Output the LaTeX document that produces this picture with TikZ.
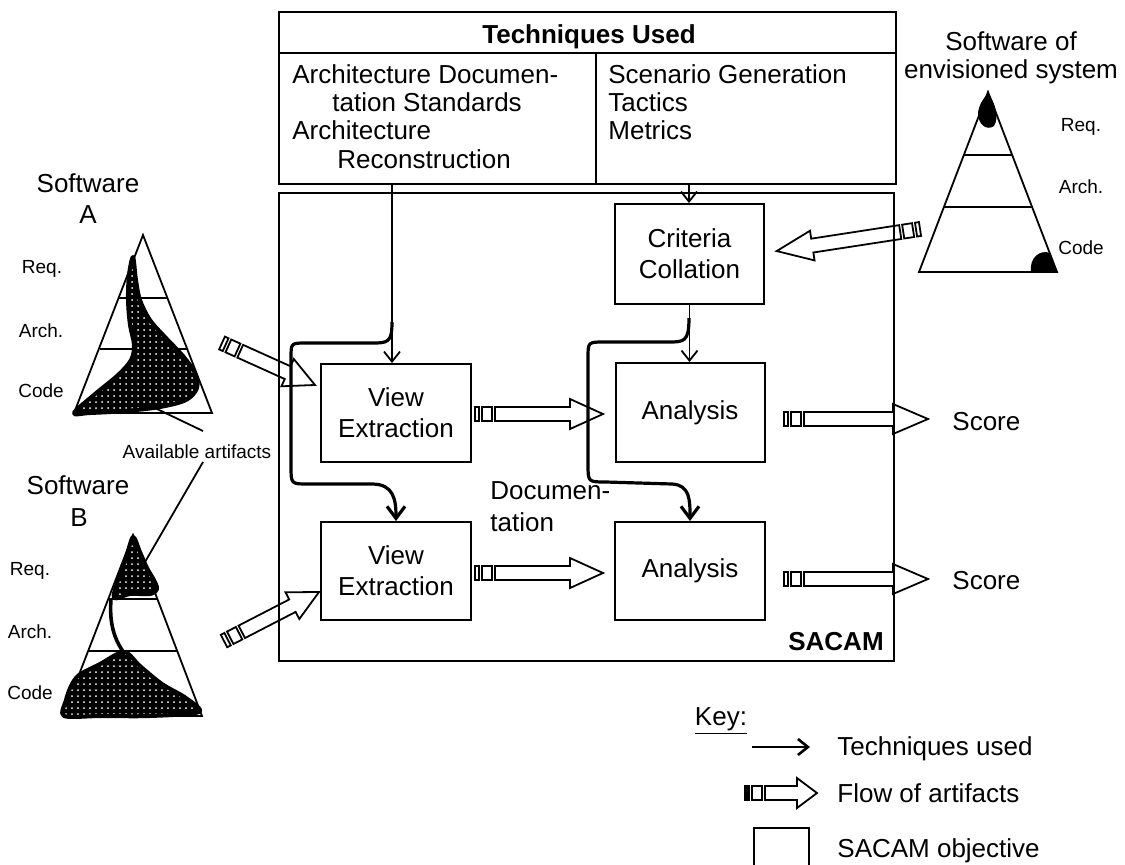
\documentclass[tikz,border=0pt]{standalone}
\usepackage{fontspec}
\setmainfont{Liberation Sans}
\usetikzlibrary{arrows.meta, patterns}
\tikzset{
  txt/.style={inner sep=0pt, font=\fontsize{13}{15.5}\selectfont},
  txtb/.style={inner sep=0pt, font=\fontsize{13}{15.5}\selectfont\bfseries},
  small/.style={inner sep=0pt, font=\fontsize{9.5}{11}\selectfont},
  objbox/.style={draw, line width=1pt, inner sep=0pt, align=center, font=\fontsize{13}{15.5}\selectfont},
  frame/.style={draw, line width=1pt, inner sep=0pt},
  ln/.style={line width=1pt},
  tri/.style={line width=0.9pt, line join=miter},
  tech/.style={line width=0.9pt, -{Straight Barb[length=5pt,width=8pt]}},
  techthick/.style={line width=1.6pt, -{Straight Barb[length=6pt,width=9pt]}},
  flowln/.style={line width=0.9pt},
  blob/.style={preaction={fill=black}, pattern=dots, pattern color=white, draw=black, line width=2pt, line join=round},
  pics/flowarr/.style 2 args={code={
    \draw[flowln] (0,-7) rectangle (4,7);
    \draw[flowln] (7,-7) rectangle (17,7);
    \draw[flowln] (20,-7) -- ({#1-#2},-7) -- ({#1-#2},-15) -- (#1,0) -- ({#1-#2},15) -- ({#1-#2},7) -- (20,7) -- cycle;
  }}
}
\begin{document}
\begin{tikzpicture}[x=0.5pt,y=-0.5pt]
\useasboundingbox (0,0) rectangle (1125,864);

% ---------- Techniques box ----------
\node[frame, anchor=north west, minimum width=308.5pt, minimum height=86pt] (techbox) at (278,11) {};
\coordinate (hdr) at (278,53);
\draw[ln] (hdr) -- (hdr -| techbox.east);
\coordinate (dv) at (596,53);
\draw[ln] (dv) -- (dv |- techbox.south);
\node[txtb, anchor=base] (th) at (589,43) {Techniques Used};
\node[txt, anchor=base west] (l1) at (292,83) {Architecture Documen-};
\node[txt, anchor=base west] (l2) at (332,111) {tation Standards};
\node[txt, anchor=base west] (l3) at (292,139) {Architecture};
\node[txt, anchor=base west] (l4) at (337,168) {Reconstruction};
\node[txt, anchor=base west] (r1) at (608,83) {Scenario Generation};
\node[txt, anchor=base west] (r2) at (608,111) {Tactics};
\node[txt, anchor=base west] (r3) at (608,139) {Metrics};

% ---------- SACAM box ----------
\node[frame, anchor=north west, minimum width=307.5pt, minimum height=234pt] (sacam) at (278,192) {};
\node[txtb, anchor=base] (sacamlbl) at (836,650) {SACAM};

\node[objbox, minimum width=75pt, minimum height=49pt] (ve1) at (396,413) {View\\Extraction};
\node[objbox, minimum width=75pt, minimum height=49pt] (ve2) at (396,571) {View\\Extraction};
\node[objbox, minimum width=74.5pt, minimum height=49.5pt] (an1) at (690,412.5) {Analysis};
\node[objbox, minimum width=75pt, minimum height=49pt] (an2) at (690,571) {Analysis};
\node[objbox, minimum width=74.5pt, minimum height=50pt] (cc) at (689.5,254) {Criteria\\Collation};

\node[txt, anchor=base west] (doc1) at (490,499) {Documen-};
\node[txt, anchor=base west] (doc2) at (490,531) {tation};

% ---------- flow of artifacts ----------
\coordinate (f1) at (475,414);
\pic at (f1) {flowarr={128}{33}};
\coordinate (f2) at (475,573);
\pic at (f2) {flowarr={128}{33}};
\coordinate (f3) at (784,419);
\pic at (f3) {flowarr={144}{35}};
\coordinate (f4) at (784,579);
\pic at (f4) {flowarr={144}{35}};
\coordinate (f5) at (920,229);
\pic[rotate=188.75] at (f5) {flowarr={145}{36}};
\coordinate (f6) at (222,343);
\pic[rotate=-24.3] at (f6) {flowarr={102}{30}};
\coordinate (f7) at (224,641);
\pic[rotate=27.3] at (f7) {flowarr={107}{30}};

\node[txt, anchor=base west] (score1) at (952,430) {Score};
\node[txt, anchor=base west] (score2) at (952,589) {Score};

% ---------- techniques used arrows ----------
\coordinate (t1) at (392,183);
\draw[tech] (t1) -- (t1 |- ve1.north);
\coordinate (t2) at (689,183);
\draw[tech] (t2) -- (t2 |- cc.north);
\draw[tech] (cc.south) -- (cc.south |- an1.north);

\coordinate (j1) at (392,322);
\draw[techthick] (j1) .. controls (392,343) and (388,343) .. (370,343) -- (306,343)
  .. controls (291,343) .. (291,358) -- (291,466) .. controls (291,484) .. (308,484)
  -- (372,484) .. controls (394,484) and (396,500) .. (ve2.north);
\coordinate (j2) at (689,318);
\draw[techthick] (j2) .. controls (689,342) and (684,342) .. (668,342) -- (604,342)
  .. controls (588,342) .. (588,358) -- (588,464) .. controls (588,482) .. (606,482)
  -- (672,484) .. controls (690,485) and (690,500) .. (an2.north);

% ---------- Software A ----------
\node[txt, anchor=base] (swa) at (88,192) {Software};
\node[txt, anchor=base] (swaA) at (88,223) {A};
\draw[tri] (143,235) -- (74,413) -- (212,413) -- cycle;
\draw[tri] (119,298) -- (167,298);
\draw[tri] (100,349) -- (187,349);
\path[blob] plot[smooth cycle, tension=0.55] coordinates {(133,257) (136,280) (140,300) (150,320) (166,338) (183,356) (195,373) (197,388) (186,400) (160,407) (125,411) (90,413) (74,413) (95,394) (118,375) (131,360) (134,345) (130,325) (128,300) (129,275)};
\node[small, anchor=base] (aReq) at (42,273) {Req.};
\node[small, anchor=base] (aArch) at (41,337) {Arch.};
\node[small, anchor=base] (aCode) at (41,397) {Code};

% ---------- Available artifacts ----------
\node[small, anchor=base] (avail) at (197,458) {Available artifacts};
\draw[tri] (155,408) -- (203,431);
\draw[tri] (203,462) -- (145,562);

% ---------- Software B ----------
\node[txt, anchor=base] (swb) at (78,494) {Software};
\node[txt, anchor=base] (swbB) at (79,526) {B};
\draw[tri] (133,535) -- (63,716) -- (202,716) -- cycle;
\draw[tri] (108,599) -- (157,599);
\draw[tri] (88,651) -- (177,651);
\path[blob] plot[smooth cycle, tension=0.5] coordinates {(133,537) (140,552) (147,568) (154,580) (157,589) (150,594) (130,594) (114,598) (118,580) (126,558)};
\draw[line width=1.8pt] (111,599) .. controls (109,625) and (115,640) .. (124,653);
\path[blob] plot[smooth cycle, tension=0.5] coordinates {(124,652) (140,666) (162,684) (186,698) (199,712) (150,716) (100,716) (64,716) (66,700) (71,686) (79,675) (100,664)};
\node[small, anchor=base] (bReq) at (30,575) {Req.};
\node[small, anchor=base] (bArch) at (30,638) {Arch.};
\node[small, anchor=base] (bCode) at (30,699) {Code};

% ---------- Envisioned system ----------
\node[txt, anchor=base] (sw1) at (1011,50) {Software of};
\node[txt, anchor=base] (sw2) at (1011,78) {envisioned system};
\draw[tri] (988,92) -- (919,272) -- (1057,272) -- cycle;
\draw[tri] (964,155) -- (1012,155);
\draw[tri] (944,207) -- (1032,207);
\fill (988,93) .. controls (996,104) and (999,118) .. (994,126) .. controls (987,131) and (978,125) .. (978,113) .. controls (979,104) and (984,98) .. (988,93);
\fill (1031,272) .. controls (1029,258) and (1040,249) .. (1050,253) -- (1057,272) -- cycle;
\node[small, anchor=base] (eReq) at (1081,131) {Req.};
\node[small, anchor=base] (eArch) at (1081,193) {Arch.};
\node[small, anchor=base] (eCode) at (1081,254) {Code};

% ---------- Key ----------
\node[txt, anchor=base] (key) at (721,725) {\underline{Key:}};
\coordinate (ka) at (752,747);
\coordinate (kb) at (810,747);
\draw[tech, line width=1.3pt] (ka) -- (kb);
\node[txt, anchor=base west] (kt1) at (837,755) {Techniques used};
\coordinate (kf) at (745,793);
\pic at (kf) {flowarr={72}{20}};
\fill (745,786) rectangle (750,800);
\node[txt, anchor=base west] (kt2) at (837,802) {Flow of artifacts};
\node[frame, anchor=north west, minimum width=27.5pt, minimum height=25pt] (ksq) at (753,827) {};
\node[txt, anchor=base west] (kt3) at (837,857) {SACAM objective};
\end{tikzpicture}
\end{document}
